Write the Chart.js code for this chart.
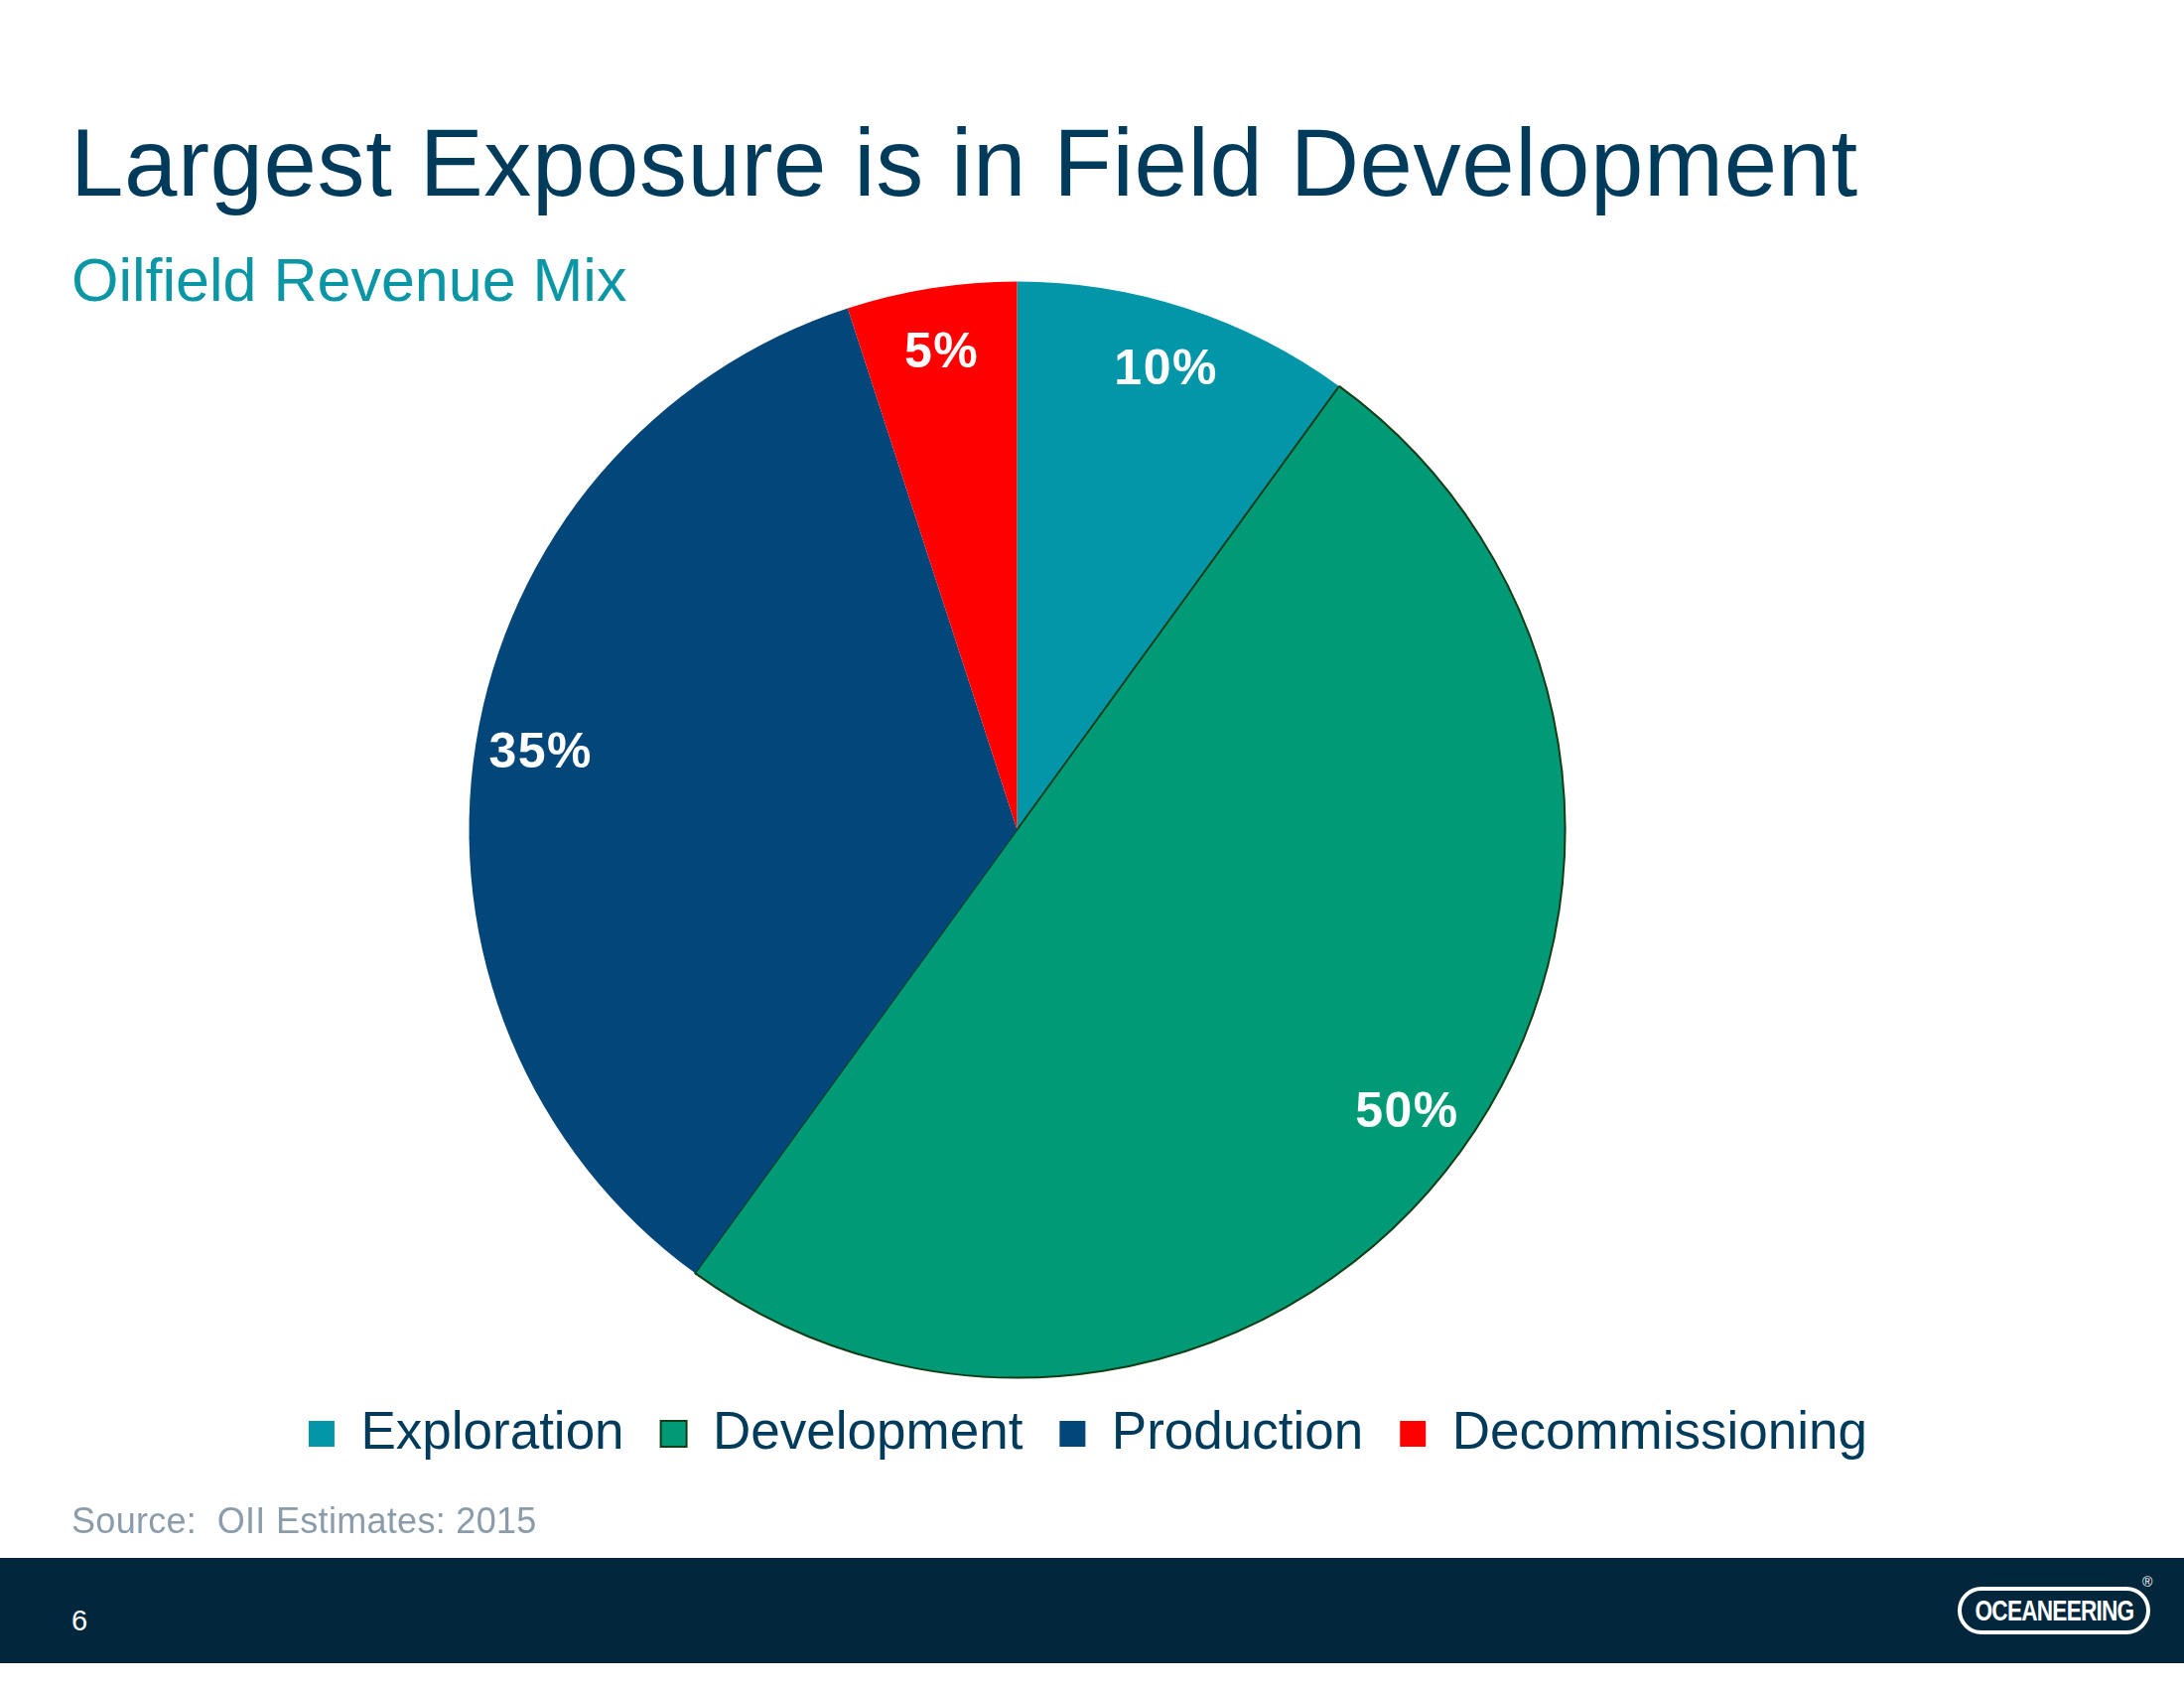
<!DOCTYPE html>
<html>
<head>
<meta charset="utf-8">
<script src="https://cdn.jsdelivr.net/npm/chart.js@4.4.1/dist/chart.umd.min.js"></script>
<style>
  html, body { margin: 0; padding: 0; background: #ffffff; }
  body { width: 2200px; height: 1700px; position: relative; overflow: hidden; font-family: 'Liberation Sans', Arial, sans-serif; }
  #chart { position: absolute; left: 0; top: 0; }
  .txt { position: absolute; white-space: nowrap; line-height: 1; }
  #title { left: 71px; top: 116px; font-size: 96px; color: #003b5c; letter-spacing: 0.6px; }
  #subtitle { left: 72px; top: 252px; font-size: 61px; color: #0a96a5; }
  #source { left: 72px; top: 1514px; font-size: 36px; color: #8a9caa; letter-spacing: 0.3px; }
  #footer { position: absolute; left: 0; top: 1569px; width: 2200px; height: 106px; background: #02273d; }
  #page { left: 72px; top: 1618px; font-size: 29px; color: #ffffff; }
  #logo { position: absolute; left: 1972px; top: 1598px; width: 194px; height: 48px; box-sizing: border-box;
          border: 4px solid #ffffff; border-radius: 24px; display: flex; align-items: center;
          justify-content: center; overflow: hidden; }
  #logo span { display: inline-block; color: #ffffff; font-family: 'Liberation Sans Narrow', 'Liberation Sans', sans-serif;
          font-weight: bold; font-size: 29px; letter-spacing: -1px; transform: scaleX(0.78); transform-origin: center; }
  #reg { left: 2158px; top: 1586px; font-size: 14px; color: #ffffff; }
</style>
</head>
<body>
<div class="txt" id="title">Largest Exposure is in Field Development</div>
<div class="txt" id="subtitle">Oilfield Revenue Mix</div>
<canvas id="chart" width="2200" height="1700"></canvas>
<div class="txt" id="source">Source:&nbsp; OII Estimates: 2015</div>
<div id="footer"></div>
<div class="txt" id="page">6</div>
<div id="logo"><span>OCEANEERING</span></div>
<div class="txt" id="reg">®</div>
<script>
// ---- data ----
const categories = ['Exploration', 'Development', 'Production', 'Decommissioning'];
const shares = [10, 50, 35, 5];
const sliceColors = ['#0396a8', '#009a77', '#03467a', '#ff0000'];
const sliceBorderColors = ['#0396a8', '#123d17', '#03467a', '#ff0000'];
const sliceBorderWidths = [0, 2, 0, 0];

const labelPlugin = {
  id: 'sliceLabels',
  afterDatasetsDraw(chart) {
    const ctx = chart.ctx;
    const meta = chart.getDatasetMeta(0);
    const data = chart.data.datasets[0].data;
    ctx.save();
    ctx.fillStyle = '#ffffff';
    ctx.font = 'bold 50px "Liberation Sans", Arial, sans-serif';
    try { ctx.letterSpacing = '1.5px'; } catch (e) {}
    ctx.textAlign = 'center';
    ctx.textBaseline = 'middle';
    meta.data.forEach((arc, i) => {
      const p = arc.getProps(['x', 'y', 'startAngle', 'endAngle', 'outerRadius'], true);
      const mid = (p.startAngle + p.endAngle) / 2;
      const r = p.outerRadius * 0.88;
      ctx.fillText(data[i] + '%', p.x + Math.cos(mid) * r, p.y + Math.sin(mid) * r);
    });
    ctx.restore();
  }
};

new Chart(document.getElementById('chart'), {
  type: 'pie',
  data: {
    labels: categories,
    datasets: [{
      data: shares,
      backgroundColor: sliceColors,
      borderColor: sliceBorderColors,
      borderWidth: sliceBorderWidths
    }]
  },
  options: {
    responsive: false,
    animation: false,
    events: [],
    radius: 552,
    layout: { padding: { left: 131, right: 282, top: 290.5, bottom: 219.5 } },
    plugins: {
      title: { display: false },
      tooltip: { enabled: false },
      legend: {
        position: 'bottom',
        align: 'end',
        labels: {
          color: '#003b5c',
          font: { family: '"Liberation Sans", Arial, sans-serif', size: 53 },
          boxWidth: 26,
          boxHeight: 26,
          padding: 37
        }
      }
    }
  },
  plugins: [labelPlugin]
});
</script>
</body>
</html>
